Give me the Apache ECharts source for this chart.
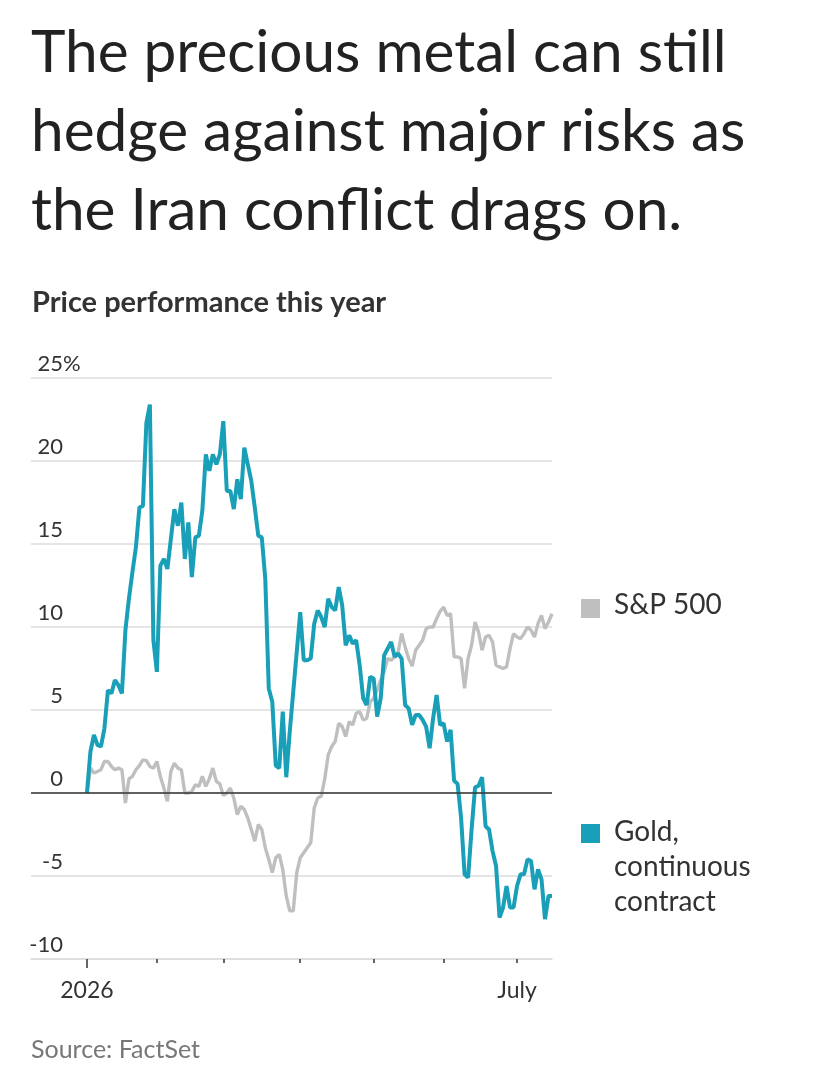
<!DOCTYPE html>
<html>
<head>
<meta charset="utf-8">
<script src="https://cdn.jsdelivr.net/npm/echarts@6/dist/echarts.min.js"></script>
<style>
  html, body { margin: 0; padding: 0; background: #fff; }
  #chart { width: 816px; height: 1080px; }
</style>
</head>
<body>
<div id="chart"></div>
<script>
// trading-day index -> % change since start of year
var monthTicks = [0, 20, 39, 61, 82, 102, 123];
var labelTicks = [0, 123];
var labelText = ['2026', 'July'];

var sp500 = [
  0, 1.5, 1.2, 1.3, 1.4, 1.9, 1.9, 1.6, 1.4, 1.5,
  1.4, -0.6, 0.85, 1.0, 1.4, 1.65, 2.0, 1.95, 1.6, 1.5,
  1.9, 1.0, 0.3, -0.5, 1.3, 1.8, 1.5, 1.4, 0.0, 0.0,
  0.1, 0.5, 0.4, 1.0, 0.4, 0.85, 1.5, 0.7, 0.55, -0.15,
  0.0, 0.3, -0.3, -1.3, -0.8, -1.0, -1.5, -2.2, -2.9, -1.9,
  -2.2, -3.3, -4.0, -4.8, -3.9, -3.7, -4.6, -6.2, -7.1, -7.1,
  -4.8, -3.9, -3.6, -3.3, -3.0, -0.9, -0.3, -0.2, 0.85, 2.3,
  2.8, 3.1, 4.2, 4.0, 3.4, 4.3, 4.1, 4.8, 4.9, 4.4,
  4.5, 5.5, 5.7, 6.2, 6.8, 7.3, 8.1, 8.0, 8.2, 8.5,
  9.6, 8.8, 8.1, 7.65, 8.6, 8.9, 9.2, 9.9, 10.0, 10.0,
  10.5, 10.95, 11.2, 10.7, 10.8, 8.2, 8.2, 8.1, 6.3, 8.1,
  8.9, 10.3, 9.7, 8.6, 9.4, 9.5, 9.1, 7.7, 7.6, 7.5,
  7.6, 8.7, 9.6, 9.4, 9.3, 9.6, 10.0, 9.8, 9.4, 10.2,
  10.7, 9.9, 10.3, 10.8
];

var gold = [
  0, 2.5, 3.5, 2.9, 2.8, 3.9, 6.2, 6.0, 6.8, 6.5,
  6.0, 9.8, 11.7, 13.3, 14.8, 17.2, 17.3, 22.3, 23.4, 9.2,
  7.3, 13.7, 14.1, 13.5, 15.3, 17.1, 16.1, 17.5, 14.1, 16.3,
  13.0, 15.4, 15.5, 17.0, 20.4, 19.4, 20.4, 19.8, 20.4, 22.4,
  18.2, 18.2, 17.1, 18.9, 17.7, 20.8, 19.8, 18.8, 17.2, 15.5,
  15.4, 12.9, 6.3, 5.5, 1.65, 1.5, 4.9, 0.95, 3.7, 6.1,
  8.5, 10.9, 8.0, 8.0, 8.1, 10.2, 11.0, 10.6, 10.0, 11.7,
  11.2, 11.0, 12.4, 11.3, 8.9, 9.5, 9.0, 9.2, 7.7, 5.7,
  5.3, 7.0, 6.9, 4.6, 5.7, 8.3, 8.7, 9.1, 8.2, 8.4,
  8.1, 5.3, 5.1, 4.1, 4.7, 4.7, 4.4, 4.0, 2.7, 4.5,
  5.9, 4.1, 4.2, 3.1, 3.8, 0.74, 0.55, -1.5, -4.9, -5.1,
  -2.2, 0.34, 0.44, 0.95, -2.0, -2.2, -3.5, -4.4, -7.5, -6.9,
  -5.6, -6.9, -6.9, -5.6, -4.9, -4.9, -4.0, -4.1, -5.8, -4.6,
  -5.2, -7.6, -6.2, -6.2
];

var goldColor = '#199fb8';
var spColor = '#bfbfbf';
var font = 'Lato';

var chart = echarts.init(document.getElementById('chart'), null, { renderer: 'canvas' });

chart.setOption({
  animation: false,
  backgroundColor: '#fff',
  textStyle: { fontFamily: font },
  title: [{
    text: 'The precious metal can still\nhedge against major risks as\nthe Iran conflict drags on.',
    left: 31, top: 14, padding: 0,
    textStyle: { fontFamily: font, fontSize: 58.5, fontWeight: 'normal', color: '#222', lineHeight: 79 }
  }, {
    text: 'Price performance this year',
    left: 32, top: 286, padding: 0,
    textStyle: { fontFamily: font, fontSize: 29, fontWeight: 'bold', color: '#333', lineHeight: 34 }
  }, {
    text: 'Source: FactSet',
    left: 31, top: 1035, padding: 0,
    textStyle: { fontFamily: font, fontSize: 25, fontWeight: 'normal', color: '#777', lineHeight: 30 }
  }],
  grid: { left: 31, right: 264, top: 378, bottom: 121, containLabel: false },
  xAxis: [{
    type: 'value', min: -16, max: 133,
    splitLine: { show: false },
    axisLine: { show: true, onZero: false, lineStyle: { color: '#dcdcdc', width: 1.5 } },
    axisTick: { show: true, customValues: monthTicks, length: 4, lineStyle: { color: '#333', width: 1.5 } },
    axisLabel: {
      show: true, customValues: labelTicks, margin: 20, fontSize: 23, color: '#333',
      formatter: function (v) { return labelText[labelTicks.indexOf(v)] || ''; }
    }
  }, {
    type: 'value', min: -16, max: 133, position: 'bottom',
    splitLine: { show: false },
    axisLine: { show: false, onZero: false },
    axisTick: { show: true, customValues: [0], length: 9, lineStyle: { color: '#333', width: 1.5 } },
    axisLabel: { show: false }
  }],
  yAxis: {
    type: 'value', min: -10, max: 25, interval: 5,
    axisLine: { show: false },
    axisTick: { show: false },
    splitLine: { lineStyle: { color: '#dcdcdc', width: 1.5 } },
    axisLabel: {
      inside: true, margin: 32, align: 'right', verticalAlign: 'bottom',
      fontSize: 22, color: '#333', lineHeight: 28,
      formatter: function (v) { return v === 25 ? '{n|25}{p|%}' : String(v); },
      rich: {
        n: { align: 'left', fontSize: 22, color: '#333', lineHeight: 28 },
        p: { width: 0, align: 'left', fontSize: 22, color: '#333', lineHeight: 28 }
      }
    }
  },
  series: [{
    name: 'S&P 500',
    type: 'line',
    showSymbol: false,
    data: sp500.map(function (v, i) { return [i, v]; }),
    lineStyle: { color: spColor, width: 3.4 },
    itemStyle: { color: spColor },
    markLine: {
      silent: true, symbol: 'none', label: { show: false },
      lineStyle: { color: '#333', width: 1.5, type: 'solid' },
      data: [{ yAxis: 0 }]
    }
  }, {
    name: 'Gold, continuous contract',
    type: 'line',
    showSymbol: false,
    data: gold.map(function (v, i) { return [i, v]; }),
    lineStyle: { color: goldColor, width: 4 },
    itemStyle: { color: goldColor }
  }],
  graphic: [
    { type: 'rect', left: 581, top: 599, shape: { width: 19, height: 19 }, style: { fill: spColor } },
    { type: 'text', left: 614, top: 591, style: { text: 'S&P 500', fontFamily: font, fontSize: 28, fill: '#333' } },
    { type: 'rect', left: 581, top: 824, shape: { width: 19, height: 19 }, style: { fill: goldColor } },
    { type: 'text', left: 614, top: 814, style: { text: 'Gold,\ncontinuous\ncontract', fontFamily: font, fontSize: 28, lineHeight: 35, fill: '#333' } }
  ]
});
</script>
</body>
</html>
